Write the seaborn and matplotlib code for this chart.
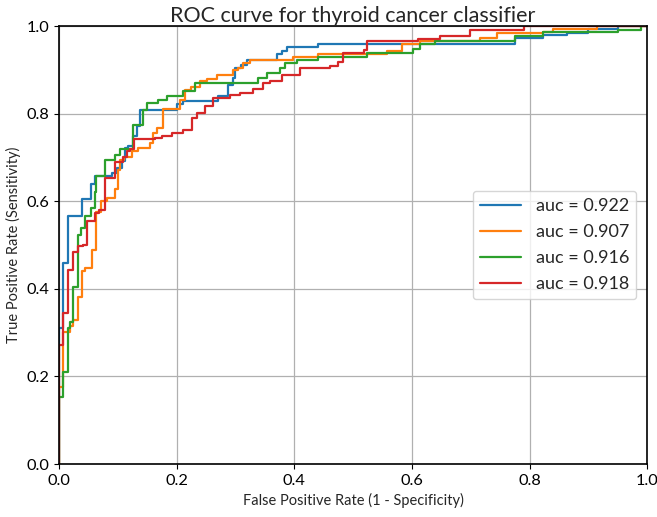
import numpy as np
import pandas as pd
import matplotlib
matplotlib.use('Agg')
import matplotlib.pyplot as plt
import seaborn as sns

# step points (fpr where curve jumps, tpr it jumps to)
blue_fpr = [0, 0, 0.006, 0.015, 0.039, 0.054, 0.062, 0.090, 0.098, 0.107, 0.112, 0.118, 0.126, 0.132,
            0.138, 0.200, 0.210, 0.270, 0.288, 0.296, 0.300, 0.310, 0.319, 0.370, 0.379, 0.388, 0.440,
            0.776, 0.823, 0.863, 0.900, 0.950, 1.0]
blue_tpr = [0, 0.310, 0.459, 0.567, 0.604, 0.640, 0.658, 0.664, 0.675, 0.691, 0.721, 0.727, 0.748, 0.771,
            0.808, 0.821, 0.828, 0.840, 0.866, 0.882, 0.904, 0.911, 0.923, 0.935, 0.943, 0.951, 0.960,
            0.973, 0.980, 0.985, 0.993, 1.0, 1.0]

orange_fpr = [0, 0, 0.007, 0.019, 0.024, 0.033, 0.039, 0.045, 0.056, 0.063, 0.071, 0.081, 0.095, 0.101,
              0.104, 0.111, 0.124, 0.135, 0.155, 0.159, 0.166, 0.177, 0.206, 0.214, 0.225, 0.240, 0.252,
              0.268, 0.296, 0.305, 0.313, 0.325, 0.398, 0.440, 0.557, 0.583, 0.614, 0.716, 0.745, 0.823,
              0.840, 0.915, 1.0]
orange_tpr = [0, 0.175, 0.302, 0.314, 0.329, 0.381, 0.440, 0.448, 0.488, 0.575, 0.600, 0.607, 0.628, 0.672,
              0.695, 0.702, 0.714, 0.722, 0.734, 0.756, 0.767, 0.810, 0.832, 0.855, 0.861, 0.874, 0.878,
              0.887, 0.900, 0.904, 0.916, 0.923, 0.929, 0.935, 0.943, 0.959, 0.966, 0.973, 0.983, 0.986,
              0.993, 1.0, 1.0]

green_fpr = [0, 0, 0.007, 0.016, 0.019, 0.024, 0.032, 0.038, 0.045, 0.054, 0.061, 0.063, 0.078, 0.095,
             0.104, 0.126, 0.143, 0.149, 0.169, 0.183, 0.211, 0.231, 0.339, 0.353, 0.376, 0.384, 0.404,
             0.440, 0.523, 0.602, 0.614, 0.640, 0.776, 0.823, 0.950, 0.990, 1.0]
green_tpr = [0, 0.154, 0.211, 0.310, 0.325, 0.405, 0.523, 0.538, 0.567, 0.584, 0.620, 0.657, 0.694, 0.706,
             0.719, 0.773, 0.809, 0.824, 0.830, 0.840, 0.851, 0.870, 0.882, 0.893, 0.904, 0.916, 0.923,
             0.929, 0.939, 0.948, 0.959, 0.965, 0.977, 0.986, 0.992, 1.0, 1.0]

red_fpr = [0, 0, 0.007, 0.016, 0.024, 0.033, 0.040, 0.047, 0.062, 0.068, 0.078, 0.095, 0.109, 0.115,
           0.120, 0.128, 0.163, 0.175, 0.192, 0.211, 0.226, 0.235, 0.248, 0.262, 0.291, 0.308, 0.330,
           0.347, 0.359, 0.379, 0.410, 0.460, 0.475, 0.483, 0.518, 0.523, 0.610, 0.648, 0.699, 0.790, 1.0]
red_tpr = [0, 0.272, 0.344, 0.442, 0.485, 0.497, 0.500, 0.555, 0.573, 0.580, 0.653, 0.690, 0.700, 0.714,
           0.720, 0.742, 0.745, 0.750, 0.756, 0.762, 0.790, 0.802, 0.817, 0.836, 0.843, 0.848, 0.856,
           0.870, 0.875, 0.887, 0.904, 0.908, 0.917, 0.939, 0.945, 0.965, 0.970, 0.978, 0.990, 1.0, 1.0]

labels = ['auc = 0.922', 'auc = 0.907', 'auc = 0.916', 'auc = 0.918']
colors = ['#1f77b4', '#ff7f0e', '#2ca02c', '#d62728']

frames = []
for lab, f, t in zip(labels,
                     [blue_fpr, orange_fpr, green_fpr, red_fpr],
                     [blue_tpr, orange_tpr, green_tpr, red_tpr]):
    frames.append(pd.DataFrame({'fpr': f, 'tpr': t, 'model': lab}))
df = pd.concat(frames, ignore_index=True)

sns.set_style('ticks')
plt.rcParams['font.family'] = ['Lato', 'DejaVu Sans']

fig, ax = plt.subplots(figsize=(6.57, 5.17), dpi=100)
fig.subplots_adjust(left=0.0898, right=0.985, top=0.9497, bottom=0.1025)

sns.lineplot(data=df, x='fpr', y='tpr', hue='model', palette=colors, estimator=None,
             sort=False, drawstyle='steps-post', linewidth=1.6, ax=ax)

ax.set_xlim(0, 1)
ax.set_ylim(0, 1)
ax.set_xticks(np.arange(0, 1.01, 0.2))
ax.set_yticks(np.arange(0, 1.01, 0.2))
ax.grid(True, color='#b0b0b0', linewidth=0.9)
for s in ax.spines.values():
    s.set_color('black')
    s.set_linewidth(1.2)
ax.tick_params(labelsize=11.8, colors='black')

ax.set_title('ROC curve for thyroid cancer classifier', fontsize=15.5, pad=3)
ax.set_xlabel('False Positive Rate (1 - Specificity)', fontsize=10.5)
ax.set_ylabel('True Positive Rate (Sensitivity)', fontsize=10.5)

ax.legend(loc='center right', fontsize=13, handlelength=2.3, handletextpad=0.8,
          labelspacing=0.55, borderaxespad=0.6, title=None)

plt.savefig('out.png', dpi=100)
